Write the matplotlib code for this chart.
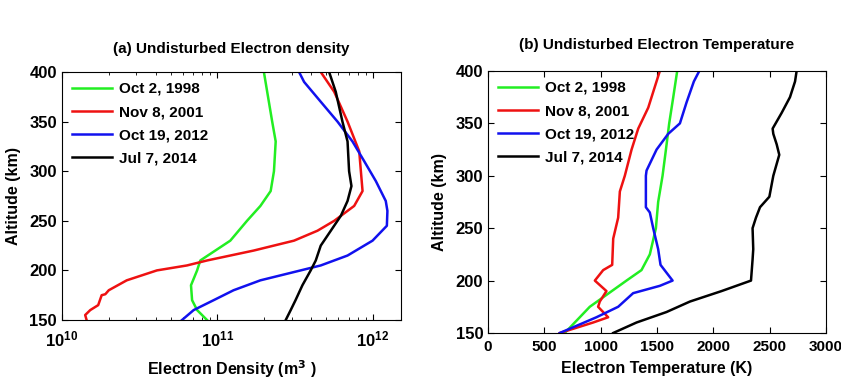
import matplotlib
matplotlib.use("Agg")
import matplotlib.pyplot as plt
from matplotlib.ticker import LogLocator, NullFormatter, MultipleLocator

plt.rcParams['font.family'] = ['Liberation Sans', 'DejaVu Sans']
plt.rcParams['font.weight'] = 'bold'
plt.rcParams['mathtext.default'] = 'bf'

labels = ['Oct 2, 1998', 'Nov 8, 2001', 'Oct 19, 2012', 'Jul 7, 2014']
colors = ['#22ee22', '#ee1111', '#1111ee', '#000000']

# (a) electron density profiles (m^-3) vs altitude (km)
alt_g = [400, 380, 350, 330, 300, 280, 265, 250, 230, 210, 200, 185, 170, 160, 150]
ne_g = [1.99e11, 2.09e11, 2.25e11, 2.37e11, 2.31e11, 2.20e11, 1.89e11, 1.55e11,
        1.21e11, 7.76e10, 7.40e10, 6.76e10, 6.87e10, 7.40e10, 8.57e10]

alt_r = [400, 380, 350, 320, 300, 280, 265, 250, 240, 230, 220, 210, 205, 200,
         190, 180, 176, 175, 165, 160, 155, 150]
ne_r = [4.62e11, 5.64e11, 6.87e11, 8.17e11, 8.37e11, 8.58e11, 7.58e11, 5.64e11,
        4.40e11, 3.11e11, 1.71e11, 8.57e10, 6.37e10, 4.08e10, 2.61e10, 2.00e10,
        1.90e10, 1.80e10, 1.71e10, 1.52e10, 1.41e10, 1.44e10]

alt_b = [400, 390, 370, 350, 330, 310, 290, 270, 260, 245, 230, 215, 205, 200,
         190, 180, 170, 160, 150]
ne_b = [3.35e11, 3.61e11, 4.62e11, 5.92e11, 7.39e11, 8.80e11, 1.045e12, 1.21e12,
        1.24e12, 1.23e12, 9.95e11, 6.87e11, 4.62e11, 3.43e11, 1.89e11, 1.27e11,
        9.46e10, 7.03e10, 5.92e10]

alt_k = [400, 380, 350, 330, 300, 285, 270, 255, 240, 225, 210, 200, 185, 170, 160, 150]
ne_k = [5.23e11, 5.77e11, 6.37e11, 6.87e11, 7.03e11, 7.28e11, 6.87e11, 6.22e11,
        5.36e11, 4.62e11, 4.29e11, 3.98e11, 3.52e11, 3.18e11, 2.96e11, 2.75e11]

# (b) electron temperature profiles (K) vs altitude (km)
talt_g = [400, 375, 350, 325, 300, 275, 250, 225, 210, 200, 175, 150]
te_g = [1679, 1644, 1608, 1579, 1549, 1510, 1490, 1436, 1362, 1229, 903, 681]

talt_r = [400, 380, 365, 345, 325, 300, 285, 260, 240, 215, 210, 200, 190, 180,
          175, 165, 160, 150]
te_r = [1525, 1466, 1422, 1333, 1274, 1214, 1170, 1155, 1111, 1102, 1022, 948,
        1051, 992, 977, 1066, 933, 637]

talt_b = [400, 390, 370, 350, 340, 325, 305, 300, 270, 265, 250, 230, 215, 200,
          195, 188, 175, 165, 150]
te_b = [1875, 1827, 1762, 1703, 1599, 1496, 1407, 1401, 1401, 1436, 1466, 1510,
        1531, 1638, 1525, 1288, 1155, 962, 637]

talt_k = [400, 390, 375, 360, 345, 340, 330, 320, 300, 280, 270, 260, 250, 230,
          220, 200, 190, 180, 170, 160, 150]
te_k = [2739, 2725, 2680, 2606, 2526, 2532, 2562, 2585, 2532, 2497, 2414, 2378,
        2348, 2354, 2348, 2334, 2073, 1792, 1584, 1318, 1111]

fig = plt.figure(figsize=(8.41, 3.82), dpi=100)
ax1 = fig.add_axes([0.0737, 0.1623, 0.4033, 0.6492])
ax2 = fig.add_axes([0.5803, 0.1283, 0.4019, 0.6859])

for ne, alt, c, lab in zip([ne_g, ne_r, ne_b, ne_k], [alt_g, alt_r, alt_b, alt_k], colors, labels):
    ax1.plot(ne, alt, color=c, lw=1.8, label=lab)
ax1.set_xscale('log')
ax1.set_xlim(1e10, 1.52e12)
ax1.set_ylim(150, 400)
ax1.xaxis.set_major_locator(LogLocator(base=10))
ax1.xaxis.set_minor_locator(LogLocator(base=10, subs=range(2, 10)))
ax1.xaxis.set_minor_formatter(NullFormatter())
ax1.set_xlabel('Electron Density (m$^{3}$ )', fontsize=11.5, fontweight='bold', labelpad=6)
ax1.set_ylabel('Altitude (km)', fontsize=11.5, fontweight='bold', labelpad=6)
ax1.set_title('(a) Undisturbed Electron density', fontsize=11, fontweight='bold', pad=14)
ax1.tick_params(axis='x', pad=7)

for te, alt, c, lab in zip([te_g, te_r, te_b, te_k], [talt_g, talt_r, talt_b, talt_k], colors, labels):
    ax2.plot(te, alt, color=c, lw=1.8, label=lab)
ax2.set_xlim(0, 3000)
ax2.set_ylim(150, 400)
ax2.xaxis.set_major_locator(MultipleLocator(500))
ax2.set_xlabel('Electron Temperature (K)', fontsize=11.5, fontweight='bold', labelpad=5)
ax2.set_ylabel('Altitude (km)', fontsize=11.5, fontweight='bold', labelpad=6)
ax2.set_title('(b) Undisturbed Electron Temperature', fontsize=11, fontweight='bold', pad=16)
ax2.tick_params(axis='x', pad=5)

for ax in (ax1, ax2):
    ax.yaxis.set_major_locator(MultipleLocator(50))
    ax.tick_params(which='both', direction='in', top=True, right=True, labelsize=12)
    ax.tick_params(which='major', length=4)
    ax.tick_params(which='minor', length=2)
    ax.legend(loc='upper left', frameon=False, fontsize=11, handlelength=2.6,
              handletextpad=0.5, labelspacing=0.6, borderaxespad=0.25)
    for lbl in ax.get_xticklabels() + ax.get_yticklabels():
        lbl.set_fontweight('bold')
ax2.tick_params(axis='x', labelsize=11)

fig.savefig('out.png', dpi=100)
